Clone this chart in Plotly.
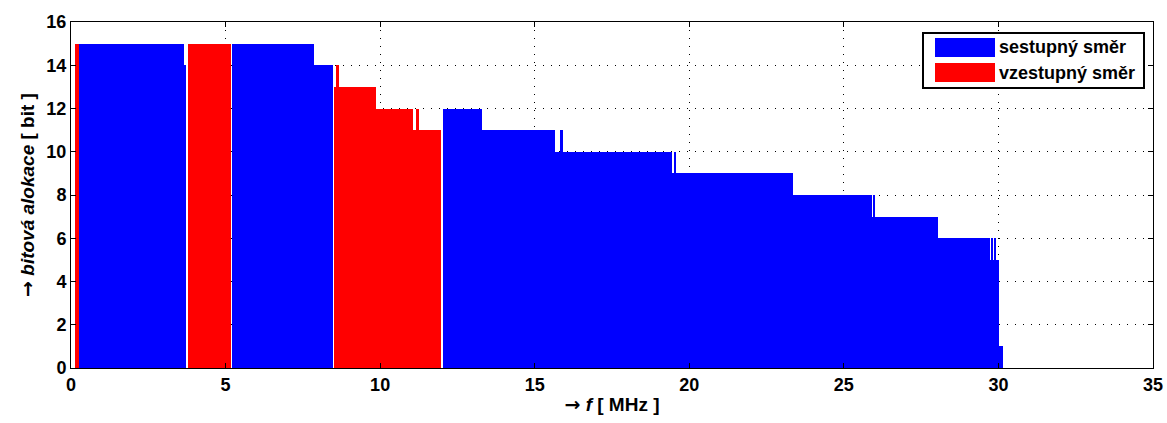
import plotly.graph_objects as go

# Downstream (sestupný směr) segments: start [MHz], end [MHz], bits
ds_start = [0.26, 3.66, 5.21, 7.86, 12.02, 13.29, 15.85, 15.66, 19.40, 19.49, 19.36,
            23.34, 25.97, 25.92, 28.06, 29.76, 29.86, 29.73, 30.02]
ds_end = [3.66, 3.72, 7.86, 8.48, 13.29, 15.66, 15.90, 19.36, 19.45, 19.56, 23.34,
          25.92, 26.02, 28.06, 29.73, 29.82, 29.90, 30.02, 30.16]
ds_bits = [15, 14, 15, 14, 12, 11, 11, 10, 10, 10, 9,
           8, 8, 7, 6, 6, 6, 5, 1]

# Upstream (vzestupný směr) segments
us_start = [0.13, 3.79, 8.51, 8.57, 9.87, 11.16, 11.06]
us_end = [0.26, 5.18, 9.87, 8.67, 11.06, 11.26, 11.97]
us_bits = [15, 15, 13, 14, 12, 12, 11]

x_ticks = [0, 5, 10, 15, 20, 25, 30, 35]
y_ticks = [0, 2, 4, 6, 8, 10, 12, 14, 16]

legend_names = ["sestupný směr", "vzestupný směr"]
BLUE = "#0000FF"
RED = "#FF0000"
FONT = "Arial, Liberation Sans, sans-serif"
ARROW = '<span style="font-family:DejaVu Sans">→</span>'


def centers(s, e):
    return [(a + b) / 2 for a, b in zip(s, e)]


def widths(s, e):
    return [b - a for a, b in zip(s, e)]


fig = go.Figure()
fig.add_trace(go.Bar(x=centers(ds_start, ds_end), y=ds_bits, width=widths(ds_start, ds_end),
                     marker=dict(color=BLUE, line=dict(width=0)), name=legend_names[0],
                     showlegend=False))
fig.add_trace(go.Bar(x=centers(us_start, us_end), y=us_bits, width=widths(us_start, us_end),
                     marker=dict(color=RED, line=dict(width=0)), name=legend_names[1],
                     showlegend=False))

axis_common = dict(
    showline=True, linecolor="black", linewidth=1, mirror="ticks",
    ticks="inside", ticklen=5, tickcolor="black",
    showgrid=True, gridcolor="black", gridwidth=1, griddash="1px,7px",
    zeroline=False, automargin=False,
    tickfont=dict(family=FONT, size=18, color="black", weight="bold"),
)

fig.update_xaxes(range=[0, 35], tickvals=x_ticks, ticktext=[str(v) for v in x_ticks],
                 title=dict(text=ARROW + " <i>f</i> [ MHz ]", standoff=4,
                            font=dict(family=FONT, size=19, color="black", weight="bold")),
                 **axis_common)
fig.update_yaxes(range=[0, 16], tickvals=y_ticks, ticktext=[str(v) for v in y_ticks],
                 title=dict(text=ARROW + " <i>bitová alokace</i> [ bit ]", standoff=6,
                            font=dict(family=FONT, size=19, color="black", weight="bold")),
                 **axis_common)

# Legend drawn as shapes + text (wide MATLAB-style swatches)
W, H = 1167, 423
ml, mr, mt, mb = 71, 14, 22, 55
pw, ph = W - ml - mr, H - mt - mb


def px(xp):
    return (xp - ml) / pw


def py(yp):
    return (H - mb - yp) / ph


shapes = [
    dict(type="rect", xref="paper", yref="paper", x0=px(923), x1=px(1144), y0=py(88), y1=py(33),
         fillcolor="white", line=dict(color="black", width=2), layer="above"),
    dict(type="rect", xref="paper", yref="paper", x0=px(935), x1=px(995), y0=py(57), y1=py(38),
         fillcolor=BLUE, line=dict(width=0), layer="above"),
    dict(type="rect", xref="paper", yref="paper", x0=px(935), x1=px(995), y0=py(82), y1=py(63),
         fillcolor=RED, line=dict(width=0), layer="above"),
]
annotations = [
    dict(xref="paper", yref="paper", x=px(997), y=py(47.5), text=legend_names[0], showarrow=False,
         xanchor="left", yanchor="middle",
         font=dict(family=FONT, size=18, color="black", weight="bold")),
    dict(xref="paper", yref="paper", x=px(997), y=py(72.5), text=legend_names[1], showarrow=False,
         xanchor="left", yanchor="middle",
         font=dict(family=FONT, size=18, color="black", weight="bold")),
]

fig.update_layout(
    width=W, height=H,
    margin=dict(l=ml, r=mr, t=mt, b=mb, autoexpand=False),
    barmode="overlay", bargap=0,
    plot_bgcolor="white", paper_bgcolor="white",
    shapes=shapes, annotations=annotations,
    showlegend=False,
)

fig.write_html("out.html")
